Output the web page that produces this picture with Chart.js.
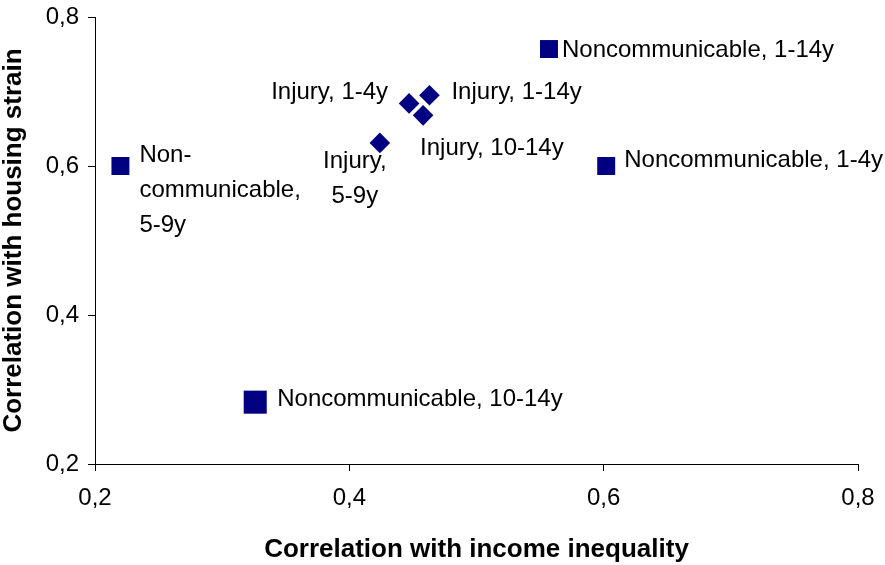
<!DOCTYPE html>
<html>
<head>
<meta charset="utf-8">
<script src="https://cdn.jsdelivr.net/npm/chart.js@4.4.1/dist/chart.umd.min.js"></script>
<style>
  html, body { margin: 0; padding: 0; background: #fff; }
  #wrap { width: 885px; height: 565px; position: relative; }
</style>
</head>
<body>
<div id="wrap"><canvas id="c" width="885" height="565"></canvas></div>
<script>
// ---- Data ----
const ncLabels = ['Noncommunicable, 1-4y', 'Non-\ncommunicable,\n5-9y', 'Noncommunicable, 10-14y', 'Noncommunicable, 1-14y'];
const ncIncome = [0.602, 0.220, 0.326, 0.557];
const ncHousing = [0.600, 0.600, 0.283, 0.757];

const injLabels = ['Injury, 1-4y', 'Injury,\n5-9y', 'Injury, 10-14y', 'Injury, 1-14y'];
const injIncome = [0.447, 0.424, 0.458, 0.463];
const injHousing = [0.684, 0.631, 0.668, 0.695];

const axisTicks = [0.2, 0.4, 0.6, 0.8];
const xTitle = 'Correlation with income inequality';
const yTitle = 'Correlation with housing strain';

// ---- Styling / label placement (pixels, kept separate from data) ----
const navy = '#000080';
const FONT = '"Liberation Sans", Arial, sans-serif';
const ncRadius = [12.7, 12.7, 16.3, 12.7];
const labelPlacement = {
  nc:  [ {dx: 18, dy: -6, align: 'left'},
         {dx: 19, dy: -11, align: 'left'},
         {dx: 22, dy: -3, align: 'left'},
         {dx: 13, dy: 1, align: 'left'} ],
  inj: [ {dx: -21, dy: -11, align: 'right'},
         {dx: -25, dy: 18, align: 'center'},
         {dx: -3, dy: 33.5, align: 'left'},
         {dx: 22, dy: -3, align: 'left'} ]
};
const labelLineHeight = 35;

const toPts = (xs, ys) => xs.map((x, i) => ({x: x, y: ys[i]}));
const fmt = v => Number(v).toFixed(1).replace('.', ',');

const pointLabelPlugin = {
  id: 'pointLabels',
  afterDatasetsDraw(chart) {
    const ctx = chart.ctx;
    const sets = [[0, ncLabels, labelPlacement.nc], [1, injLabels, labelPlacement.inj]];
    ctx.save();
    ctx.font = '24px ' + FONT;
    ctx.fillStyle = '#000';
    ctx.textBaseline = 'middle';
    sets.forEach(([di, labels, place]) => {
      const meta = chart.getDatasetMeta(di);
      meta.data.forEach((pt, i) => {
        const p = place[i];
        ctx.textAlign = p.align;
        labels[i].split('\n').forEach((line, k) => {
          ctx.fillText(line, pt.x + p.dx, pt.y + p.dy + k * labelLineHeight);
        });
      });
    });
    ctx.restore();
  }
};

const axisCommon = (title, isX) => ({
  type: 'linear',
  min: 0.2,
  max: 0.8,
  afterBuildTicks: scale => { scale.ticks = axisTicks.map(v => ({value: v})); },
  ticks: {
    color: '#000',
    font: {family: FONT, size: 24},
    padding: isX ? 13 : 9,
    callback: v => fmt(v)
  },
  grid: {
    drawOnChartArea: false,
    drawTicks: true,
    tickLength: 7,
    color: '#000',
    lineWidth: 1
  },
  border: {color: '#000', width: 1},
  title: {
    display: true,
    text: title,
    color: '#000',
    font: {family: FONT, size: 26, weight: 'bold', lineHeight: 1},
    padding: isX ? {top: 0, bottom: 2} : {top: 1, bottom: 0}
  }
});

const xAxis = axisCommon(xTitle, true);
xAxis.afterFit = s => { s.height = 101; s.paddingLeft = 0; s.paddingRight = 0; };
const yAxis = axisCommon(yTitle, false);
yAxis.afterFit = s => { s.width = 95; s.paddingTop = 0; s.paddingBottom = 0; };

new Chart(document.getElementById('c'), {
  type: 'scatter',
  data: {
    datasets: [
      {
        label: 'Noncommunicable',
        data: toPts(ncIncome, ncHousing),
        pointStyle: 'rect',
        pointRadius: ncRadius,
        pointHoverRadius: ncRadius,
        backgroundColor: navy,
        borderColor: navy,
        borderWidth: 0
      },
      {
        label: 'Injury',
        data: toPts(injIncome, injHousing),
        pointStyle: 'rectRot',
        pointRadius: 10.3,
        pointHoverRadius: 10.3,
        backgroundColor: navy,
        borderColor: navy,
        borderWidth: 0
      }
    ]
  },
  options: {
    responsive: false,
    animation: false,
    devicePixelRatio: 1,
    layout: {padding: {left: 0, top: 17, right: 27, bottom: 0}},
    plugins: {
      legend: {display: false},
      tooltip: {enabled: false}
    },
    scales: {x: xAxis, y: yAxis}
  },
  plugins: [pointLabelPlugin]
});
</script>
</body>
</html>
